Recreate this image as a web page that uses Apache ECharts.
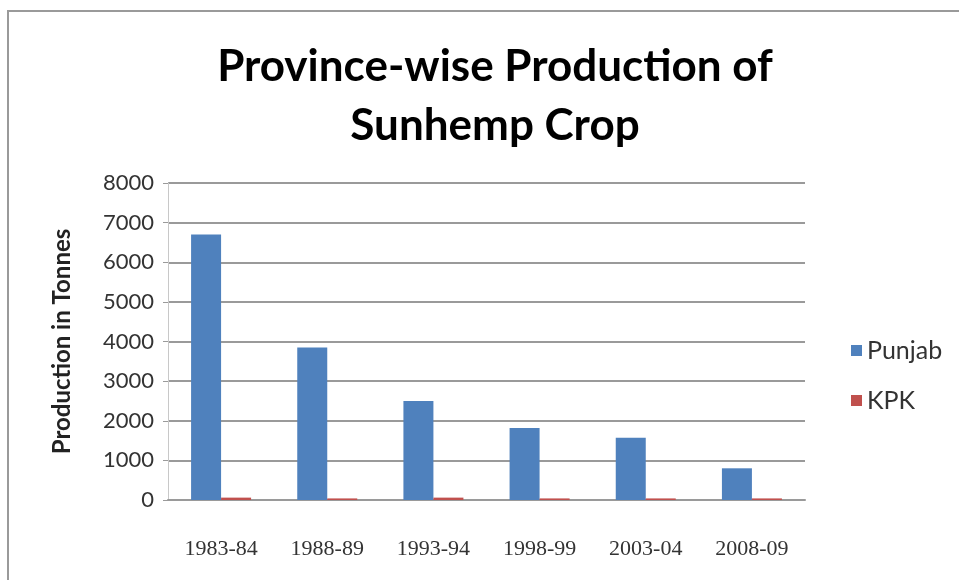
<!DOCTYPE html>
<html lang="en">
  <head>
    <meta charset="UTF-8" />
    <title>Province-wise Production of Sunhemp Crop</title>
    <script src="https://cdn.jsdelivr.net/npm/echarts@6/dist/echarts.min.js"></script>
  </head>
  <body style="margin: 0">
    <div id="main" style="width: 959px; height: 580px"></div>
    <script>
      var years = ['1983-84', '1988-89', '1993-94', '1998-99', '2003-04', '2008-09'];
      var punjab = [6700, 3850, 2500, 1820, 1570, 800];
      var kpk = [60, 40, 60, 40, 40, 40];
      var yTicks = [0, 8000, 1000]; // min, max, interval

      var myChart = echarts.init(document.getElementById('main'));
      var option = {
        backgroundColor: '#fff',
        animation: false,
        // frame of the original chart area
        graphic: [
          {
            type: 'rect',
            shape: { x: 8, y: 11, width: 960, height: 580 },
            style: { fill: 'none', stroke: '#9a9a9a', lineWidth: 2 },
          },
        ],
        title: {
          text: 'Province-wise Production of\nSunhemp Crop',
          left: 490,
          textAlign: 'center',
          top: 32,
          textStyle: {
            fontFamily: 'Lato',
            fontWeight: 'bold',
            fontSize: 44,
            lineHeight: 59,
            color: '#000',
          },
        },
        legend: {
          orient: 'vertical',
          left: 846,
          top: 333,
          itemWidth: 11,
          itemHeight: 11,
          itemGap: 25,
          icon: 'rect',
          textStyle: { fontFamily: 'Lato', fontSize: 25, color: '#333' },
          data: ['Punjab', 'KPK'],
        },
        grid: { left: 168, right: 154, top: 183, bottom: 80 },
        xAxis: {
          type: 'category',
          data: years,
          axisLine: { lineStyle: { color: '#9a9a9a', width: 2 } },
          axisTick: { show: false },
          axisLabel: {
            margin: 38,
            fontFamily: 'Liberation Serif',
            fontSize: 22,
            color: '#333',
          },
        },
        yAxis: {
          type: 'value',
          min: yTicks[0],
          max: yTicks[1],
          interval: yTicks[2],
          name: 'Production in Tonnes',
          nameLocation: 'middle',
          nameGap: 94,
          nameTextStyle: {
            fontFamily: 'Lato',
            fontWeight: 'bold',
            fontSize: 24,
            color: '#222',
          },
          axisLine: { show: true, lineStyle: { color: '#c8c8c8' } },
          axisTick: { show: true, length: 5, lineStyle: { color: '#9a9a9a' } },
          axisLabel: {
            margin: 14,
            fontFamily: 'Lato',
            fontSize: 22,
            color: '#333',
            formatter: function (v) {
              return String(v);
            },
          },
          splitLine: { lineStyle: { color: '#9a9a9a', width: 2 } },
        },
        series: [
          {
            name: 'Punjab',
            type: 'bar',
            data: punjab,
            barWidth: 30,
            barGap: '0%',
            itemStyle: { color: '#4F81BD' },
          },
          {
            name: 'KPK',
            type: 'bar',
            data: kpk,
            barWidth: 30,
            itemStyle: { color: '#C0504D' },
          },
        ],
      };
      myChart.setOption(option);
    </script>
  </body>
</html>
